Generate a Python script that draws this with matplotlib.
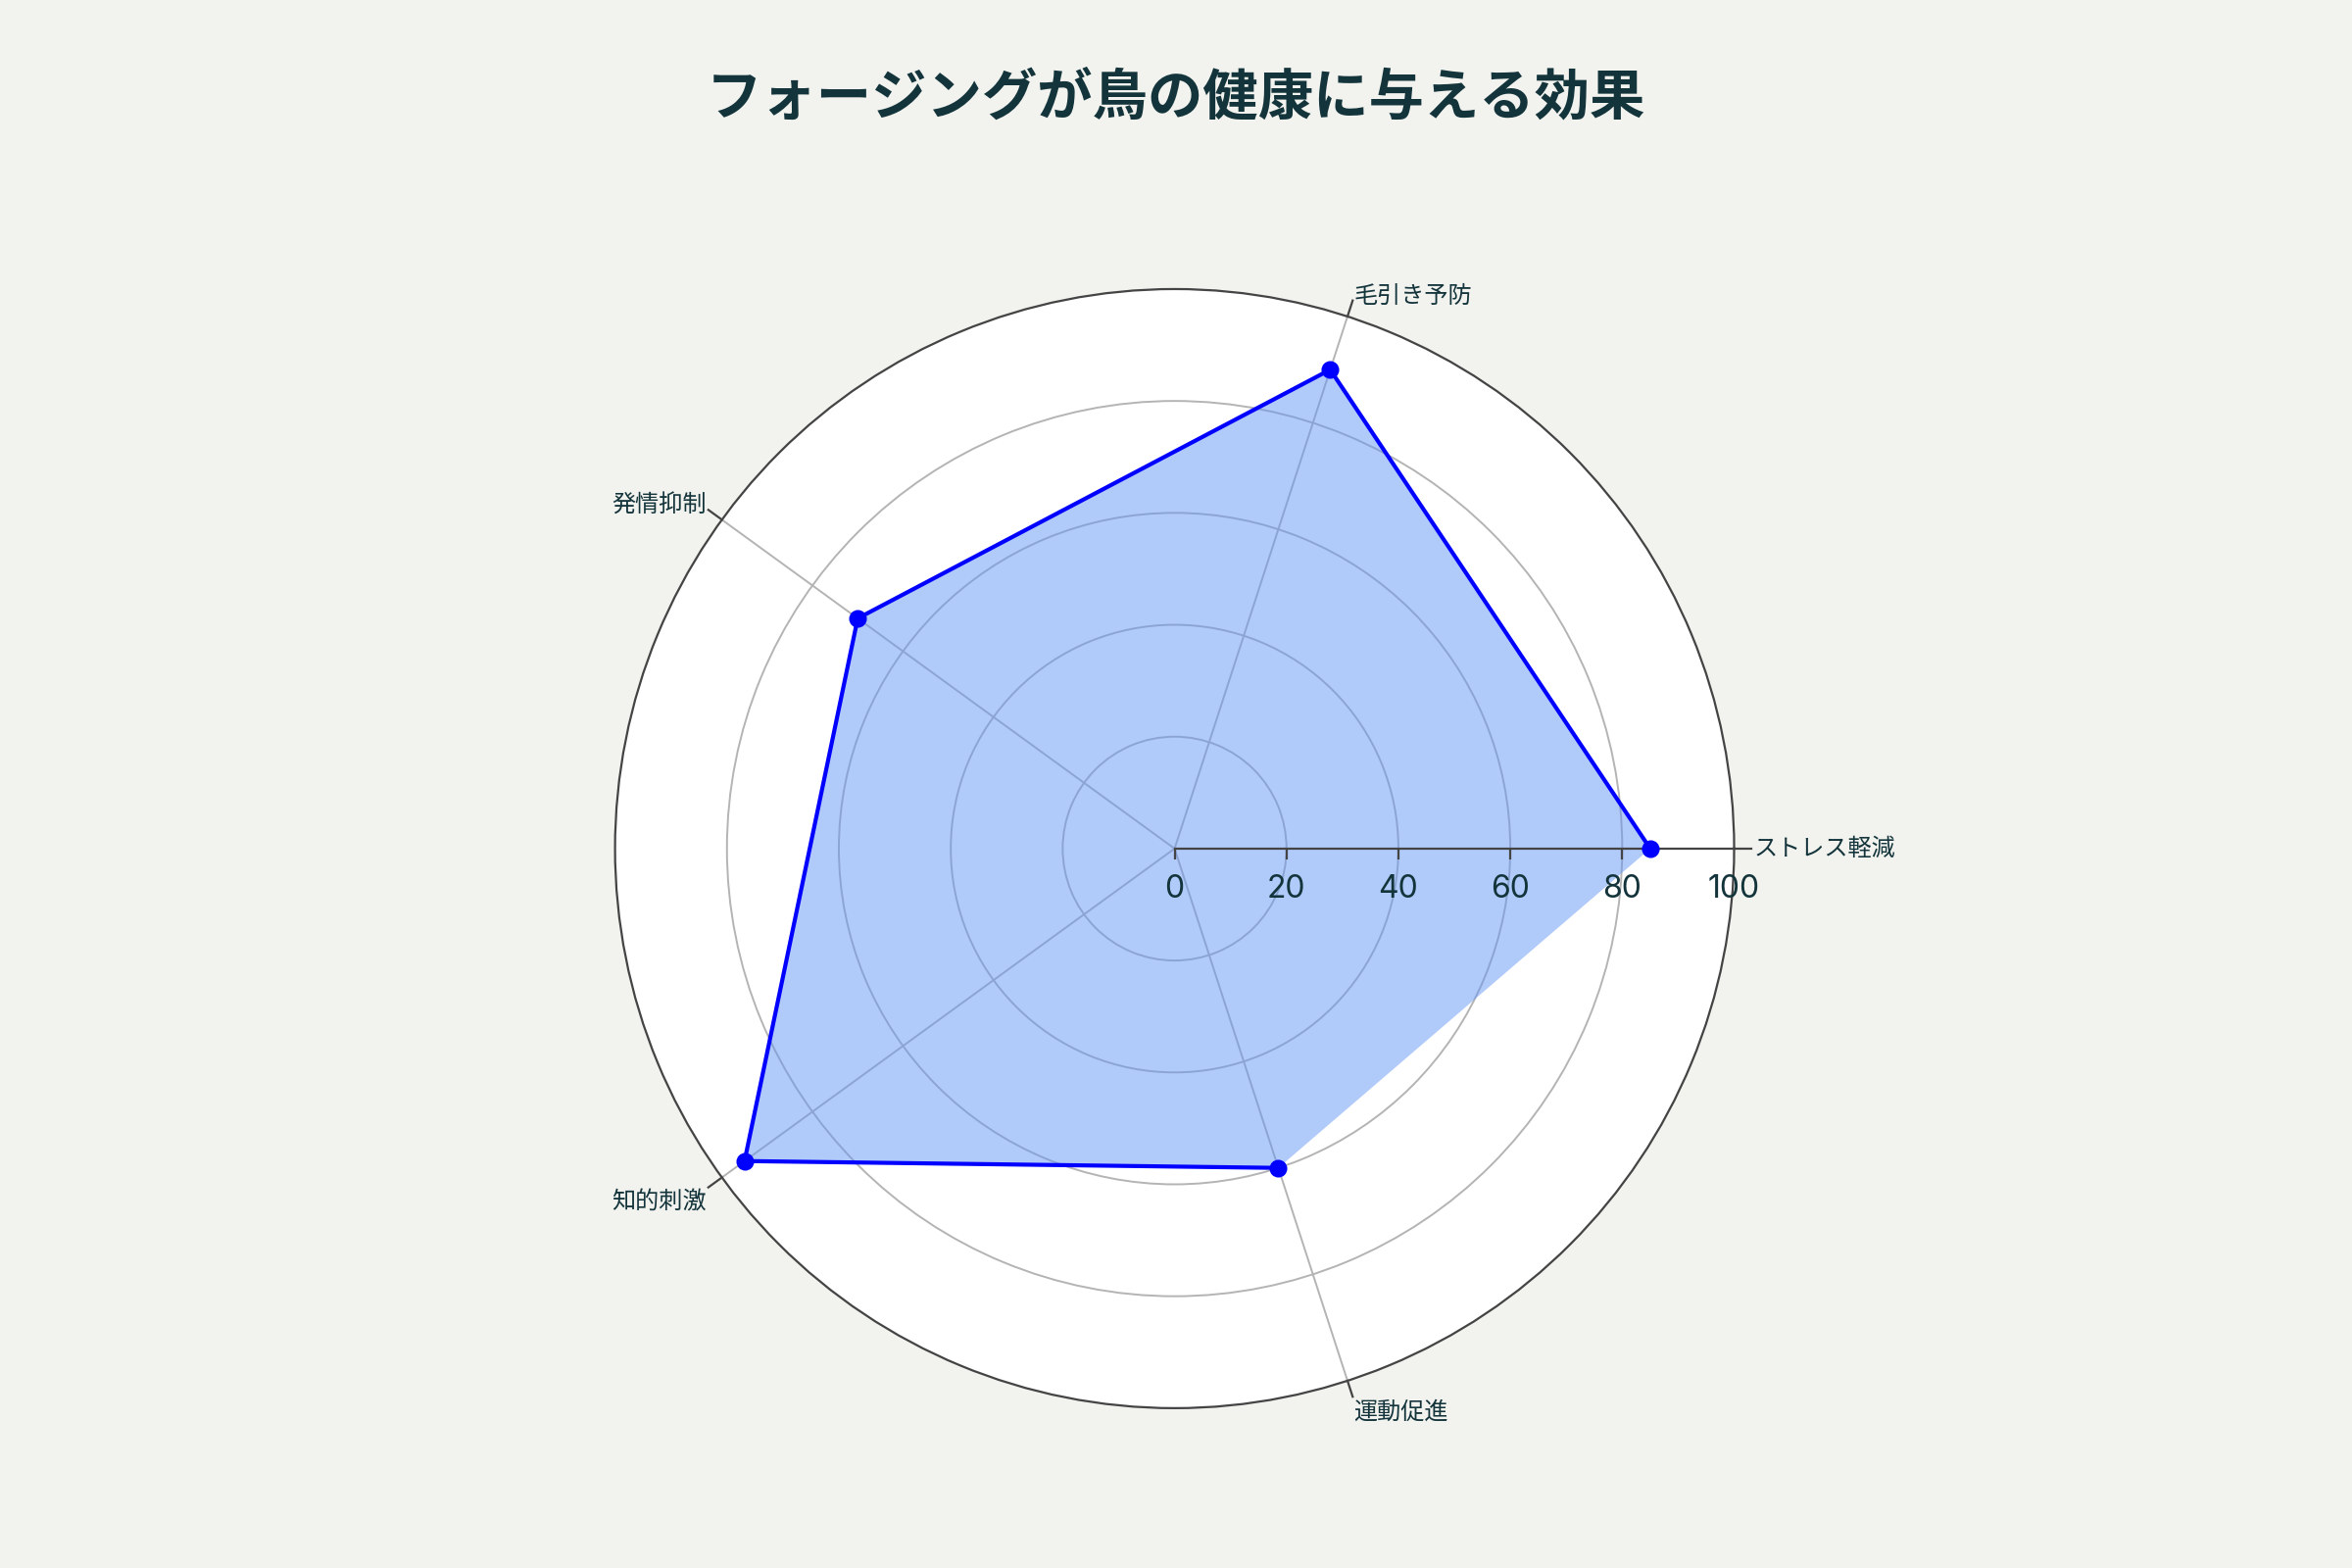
import numpy as np
import matplotlib
matplotlib.use("Agg")
import matplotlib.pyplot as plt
from matplotlib import transforms

plt.rcParams['font.family'] = ['Noto Sans CJK JP', 'DejaVu Sans']

# ---- data ----
categories = ["ストレス軽減", "毛引き予防", "発情抑制", "知的刺激", "運動促進"]
values = [85, 90, 70, 95, 60]
r_ticks = [0, 20, 40, 60, 80, 100]
r_tick_labels = ["0", "20", "40", "60", "80", "100"]
title = "フォージングが鳥の健康に与える効果"

# ---- styles ----
bg = "#f2f2ee"
text_color = "#13343b"
line_color = "#0000ff"
fill_color = (0.39, 0.59, 0.96, 0.5)
grid_color = "#b4b4b4"
axis_color = "#444444"
r_max = 100

fig = plt.figure(figsize=(12, 8), dpi=200, facecolor=bg)
ax = fig.add_axes([0.2615, 0.1019, 0.4758, 0.7138], projection="polar")
ax.set_facecolor("white")

n = len(categories)
theta = np.arange(n) * 2 * np.pi / n

ax.set_ylim(0, r_max)
ax.set_yticks(r_ticks[1:-1])
ax.set_yticklabels([])
ax.set_xticks(theta)
ax.set_xticklabels([])
ax.set_axisbelow(True)
ax.grid(True, color=grid_color, linewidth=0.7)
ax.spines['polar'].set_color(axis_color)
ax.spines['polar'].set_linewidth(0.8)
ax.tick_params(axis='both', length=0)

# outward angular ticks
for t in theta:
    ax.plot([t, t], [r_max, r_max * 1.03], color=axis_color, linewidth=0.8,
            clip_on=False, zorder=3)

# fill (closed) and line (open)
ax.fill(theta, values, color=fill_color, linewidth=0, zorder=2)
ax.plot(theta, values, color=line_color, linewidth=1.5, marker='o',
        markersize=5.5, zorder=4, clip_on=False)

# radial axis line with ticks
ax.plot([0] * len(r_ticks), r_ticks, color=axis_color, linewidth=0.8, zorder=3)
ax.plot([0] * len(r_ticks), r_ticks, linestyle='none', marker=3, markersize=4,
        markeredgewidth=0.8, color=axis_color, zorder=3)
off = transforms.offset_copy(ax.transData, fig=fig, x=0, y=-9.5, units='points')
for r, lab in zip(r_ticks, r_tick_labels):
    ax.text(0, r, lab, transform=off, ha='center', va='top', fontsize=11.5,
            color=text_color, family=['Inter', 'DejaVu Sans'], clip_on=False)

# category labels
down = transforms.offset_copy(ax.transData, fig=fig, x=0, y=-3.8, units='points')
for t, lab in zip(theta, categories):
    c, s = np.cos(t), np.sin(t)
    ha = 'center' if abs(c) < 0.05 else ('left' if c > 0 else 'right')
    va = 'center' if abs(s) < 0.05 else ('bottom' if s > 0 else 'top')
    tr = down if va == 'bottom' else ax.transData
    ax.text(t, r_max * 1.035, lab, ha=ha, va=va, fontsize=8.7, color=text_color,
            transform=tr, clip_on=False)

fig.text(0.5, 0.937, title, ha='center', va='center', fontsize=20.3,
         fontweight='bold', color=text_color)

fig.savefig("out.png", dpi=200, facecolor=bg)
